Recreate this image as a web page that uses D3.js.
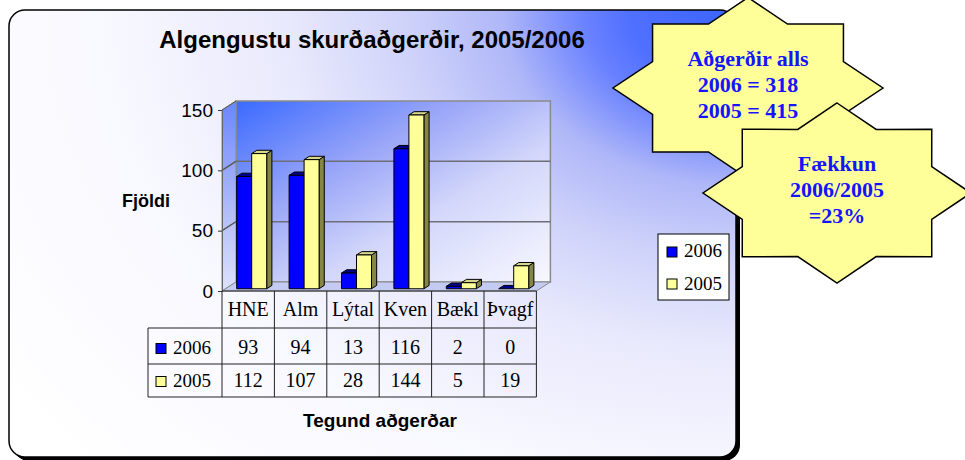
<!DOCTYPE html>
<html>
<head>
<meta charset="UTF-8">
<title>Algengustu skurðaðgerðir</title>
<style>
    body { margin: 0; background: #fff; }
    svg { display: block; }
</style>
</head>
<body>
<script src="https://d3js.org/d3.v7.min.js"></script>
<svg></svg>
<script>
    let categories = ["HNE", "Alm", "Lýtal", "Kven", "Bækl", "Þvagf"];
    let series = ["2006", "2005"];
    let values2006 = [93, 94, 13, 116, 2, 0];
    let values2005 = [112, 107, 28, 144, 5, 19];
    let yTicks = [0, 50, 100, 150];
    let star1Lines = ["Aðgerðir alls", "2006 = 318", "2005 = 415"];
    let star2Lines = ["Fækkun", "2006/2005", "=23%"];

    let seriesValues = [values2006, values2005];
    let colors = [
        {front: "#0000ff", side: "#000070", top: "#000090"},
        {front: "#ffff99", side: "#858545", top: "#d6d68c"}
    ];

    let sans = "'Liberation Sans', Arial, sans-serif";
    let serif = "'Liberation Serif', 'Times New Roman', serif";

    let svg = d3.select("svg")
        .attr("width", 965)
        .attr("height", 460);

    let defs = svg.append("defs");

    let bg = defs.append("radialGradient")
        .attr("id", "bg")
        .attr("gradientUnits", "userSpaceOnUse")
        .attr("cx", 737).attr("cy", 10).attr("r", 900)
        .attr("gradientTransform", "translate(737,10) scale(1,0.75) translate(-737,-10)");
    [[0, "#3a64ff"], [0.12, "#5070ff"], [0.17, "#6a82ff"], [0.26, "#afb7f8"],
     [0.37, "#cfd3fa"], [0.5, "#e8e9fc"], [0.7, "#f8f8ff"], [1, "#ffffff"]]
        .forEach(s => bg.append("stop").attr("offset", s[0]).attr("stop-color", s[1]));

    let wall = defs.append("linearGradient")
        .attr("id", "wall")
        .attr("x1", 0).attr("y1", 0).attr("x2", 1).attr("y2", 1);
    [[0, "#3a6aff"], [0.35, "#9aa6f8"], [0.62, "#d2d6fa"], [1, "#f8f8ff"]]
        .forEach(s => wall.append("stop").attr("offset", s[0]).attr("stop-color", s[1]));

    let side = defs.append("linearGradient")
        .attr("id", "side")
        .attr("x1", 0).attr("y1", 0).attr("x2", 0).attr("y2", 1);
    [[0, "#6a86ff"], [0.6, "#b4bef8"], [1, "#dde2fc"]]
        .forEach(s => side.append("stop").attr("offset", s[0]).attr("stop-color", s[1]));

    // panel with shadow
    svg.append("rect")
        .attr("x", 13).attr("y", 14).attr("width", 727).attr("height", 447)
        .attr("rx", 16).attr("fill", "#000");
    svg.append("rect")
        .attr("x", 9).attr("y", 10).attr("width", 727).attr("height", 447)
        .attr("rx", 16).attr("fill", "url(#bg)")
        .attr("stroke", "#000").attr("stroke-width", 1.5);

    svg.append("text")
        .attr("x", 372).attr("y", 48)
        .attr("text-anchor", "middle")
        .attr("font-family", sans).attr("font-weight", "bold").attr("font-size", 24)
        .text("Algengustu skurðaðgerðir, 2005/2006");

    // scales
    let xScale = d3.scaleBand()
        .domain(categories)
        .range([222, 536.4]);
    let bw = xScale.bandwidth();
    let yScale = d3.scaleLinear()
        .domain([0, 150])
        .range([291, 110]);
    let depthX = 14, depthY = -9;
    let pt = (x, y, f) => [x + depthX * f, y + depthY * f];
    let poly = pts => "M" + pts.map(p => p.join(",")).join("L") + "Z";

    let xL = xScale.range()[0], xR = xScale.range()[1];
    let yTop = yScale(150), yBot = yScale(0);

    let chart = svg.append("g");

    // walls and floor
    chart.append("path")
        .attr("d", poly([pt(xL, yTop, 1), pt(xR, yTop, 1), pt(xR, yBot, 1), pt(xL, yBot, 1)]))
        .attr("fill", "url(#wall)").attr("stroke", "#8a8a8a").attr("stroke-width", 1.5);
    chart.append("path")
        .attr("d", poly([pt(xL, yTop, 0), pt(xL, yTop, 1), pt(xL, yBot, 1), pt(xL, yBot, 0)]))
        .attr("fill", "url(#side)").attr("stroke", "#8a8a8a").attr("stroke-width", 1);
    chart.append("path")
        .attr("d", poly([pt(xL, yBot, 0), pt(xR, yBot, 0), pt(xR, yBot, 1), pt(xL, yBot, 1)]))
        .attr("fill", "#c4cbf2").attr("stroke", "#8a8a8a").attr("stroke-width", 1);

    // gridlines
    yTicks.filter(v => v > 0 && v < 150).forEach(v => {
        let a = pt(xL, yScale(v), 0), b = pt(xL, yScale(v), 1), c = pt(xR, yScale(v), 1);
        chart.append("path")
            .attr("d", "M" + a + "L" + b + "L" + c)
            .attr("fill", "none").attr("stroke", "#6e6e78").attr("stroke-width", 1.5);
    });
    yTicks.filter(v => v > 0).forEach(v => {
        let a = pt(xL, yScale(v), 0), b = pt(xL, yScale(v), 1);
        chart.append("line")
            .attr("x1", a[0]).attr("y1", a[1]).attr("x2", b[0]).attr("y2", b[1])
            .attr("stroke", "#555").attr("stroke-width", 1);
    });

    // y axis
    let yAxis = chart.append("g")
        .attr("transform", "translate(" + xL + ",0)")
        .call(d3.axisLeft(yScale).tickValues(yTicks).tickSize(4).tickSizeOuter(0).tickPadding(5));
    yAxis.select(".domain").attr("stroke", "#666");
    yAxis.selectAll(".tick line").attr("stroke", "#333");
    yAxis.selectAll(".tick text")
        .attr("font-family", sans).attr("font-size", 19).attr("fill", "#000");

    // bars
    let barW = 15, fa = 0.25, fb = 0.62;
    categories.forEach((c, i) => {
        series.forEach((s, si) => {
            let v = seriesValues[si][i];
            let x1 = xScale(c) + (bw - 2 * barW) / 2 + si * barW;
            let x2 = x1 + barW;
            let yt = yScale(v), yb = yScale(0);
            let g = chart.append("g")
                .attr("stroke", "#000").attr("stroke-width", 1).attr("stroke-linejoin", "round");
            g.append("path")
                .attr("d", poly([pt(x2, yt, fa), pt(x2, yt, fb), pt(x2, yb, fb), pt(x2, yb, fa)]))
                .attr("fill", colors[si].side);
            g.append("path")
                .attr("d", poly([pt(x1, yt, fa), pt(x2, yt, fa), pt(x2, yt, fb), pt(x1, yt, fb)]))
                .attr("fill", colors[si].top);
            if (v > 0) {
                g.append("path")
                    .attr("d", poly([pt(x1, yt, fa), pt(x2, yt, fa), pt(x2, yb, fa), pt(x1, yb, fa)]))
                    .attr("fill", colors[si].front);
            }
        });
    });

    // data table
    let rowY = [291, 328, 364, 397];
    let legX = 148;
    let table = svg.append("g").attr("stroke", "#222").attr("stroke-width", 1);
    table.append("line").attr("x1", xL).attr("x2", xR).attr("y1", rowY[0]).attr("y2", rowY[0]);
    rowY.slice(1).forEach(y => {
        table.append("line").attr("x1", legX).attr("x2", xR).attr("y1", y).attr("y2", y);
    });
    categories.concat([null]).forEach(c => {
        let x = c === null ? xR : xScale(c);
        table.append("line").attr("x1", x).attr("x2", x).attr("y1", rowY[0]).attr("y2", rowY[3]);
    });
    table.append("line").attr("x1", legX).attr("x2", legX).attr("y1", rowY[1]).attr("y2", rowY[3]);

    let textBase = [316, 354, 387];
    svg.append("g").selectAll("text")
        .data(categories)
        .enter()
        .append("text")
        .attr("x", d => xScale(d) + bw / 2)
        .attr("y", textBase[0])
        .attr("text-anchor", "middle")
        .attr("font-family", serif).attr("font-size", 20)
        .text(d => d);

    series.forEach((s, si) => {
        svg.append("g").selectAll("text")
            .data(seriesValues[si])
            .enter()
            .append("text")
            .attr("x", (d, i) => xScale(categories[i]) + bw / 2)
            .attr("y", textBase[si + 1])
            .attr("text-anchor", "middle")
            .attr("font-family", serif).attr("font-size", 20)
            .text(d => d);
        svg.append("rect")
            .attr("x", 156).attr("y", textBase[si + 1] - 10.5)
            .attr("width", 10).attr("height", 10)
            .attr("fill", colors[si].front).attr("stroke", "#000").attr("stroke-width", 1);
        svg.append("text")
            .attr("x", 173).attr("y", textBase[si + 1])
            .attr("font-family", serif).attr("font-size", 19)
            .text(s);
    });

    // axis titles
    svg.append("text")
        .attr("x", 122).attr("y", 207)
        .attr("font-family", sans).attr("font-weight", "bold").attr("font-size", 18)
        .text("Fjöldi");
    svg.append("text")
        .attr("x", 380).attr("y", 427)
        .attr("text-anchor", "middle")
        .attr("font-family", sans).attr("font-weight", "bold").attr("font-size", 19)
        .text("Tegund aðgerðar");

    // legend
    let legend = svg.append("g");
    legend.append("rect")
        .attr("x", 658).attr("y", 234).attr("width", 71).attr("height", 66)
        .attr("fill", "#fff").attr("stroke", "#000").attr("stroke-width", 1);
    series.forEach((s, si) => {
        legend.append("rect")
            .attr("x", 667).attr("y", 247 + si * 32)
            .attr("width", 10).attr("height", 10)
            .attr("fill", colors[si].front).attr("stroke", "#000").attr("stroke-width", 1);
        legend.append("text")
            .attr("x", 684).attr("y", 257 + si * 32.5)
            .attr("font-family", serif).attr("font-size", 19)
            .text(s);
    });

    // 8-point stars
    function star8(cx, cy, rx, ry) {
        let pts = d3.range(16).map(k => {
            let a = -Math.PI / 2 + k * Math.PI / 8;
            let r = k % 2 === 0 ? 1 : 0.765;
            return [cx + rx * r * Math.cos(a), cy + ry * r * Math.sin(a)];
        });
        return poly(pts);
    }
    function drawStar(cx, cy, rx, ry, lines, firstBase) {
        let g = svg.append("g");
        g.append("path")
            .attr("d", star8(cx, cy, rx, ry))
            .attr("fill", "#ffff99").attr("stroke", "#000").attr("stroke-width", 1.5)
            .attr("stroke-linejoin", "miter");
        g.selectAll("text")
            .data(lines)
            .enter()
            .append("text")
            .attr("x", cx)
            .attr("y", (d, i) => firstBase + i * 26)
            .attr("text-anchor", "middle")
            .attr("font-family", serif).attr("font-weight", "bold").attr("font-size", 22)
            .attr("fill", "#1414ff")
            .text(d => d);
    }
    drawStar(748, 88, 135, 90.5, star1Lines, 66);
    drawStar(837, 193, 134, 90, star2Lines, 171);
</script>
</body>
</html>
